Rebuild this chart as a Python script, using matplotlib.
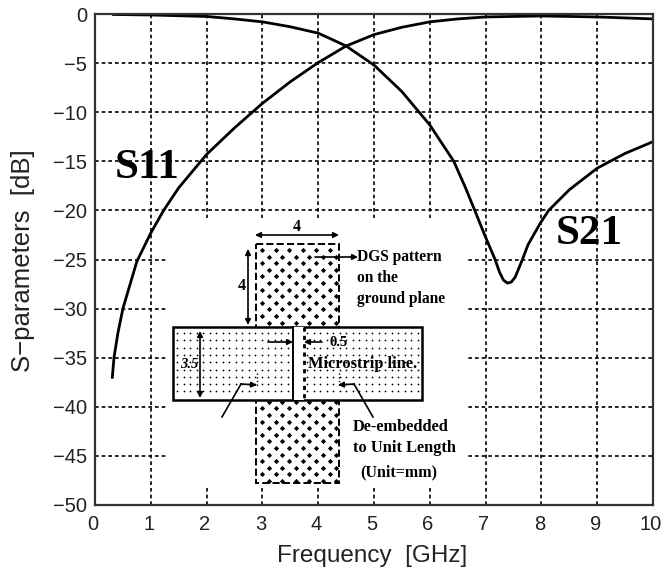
import matplotlib
matplotlib.use("Agg")
import matplotlib.pyplot as plt
import numpy as np
from matplotlib.patches import Rectangle
from matplotlib.transforms import ScaledTranslation

s11_freq = [0.31, 0.34, 0.41, 0.5, 0.75, 1.0, 1.23, 1.5, 2.0, 2.5, 3.0, 3.5, 4.0, 4.5, 5.0, 5.5, 6.0, 6.5, 7.0, 8.0, 9.0, 10.0]
s11_db = [-37, -35, -32.5, -30, -25.2, -22.3, -20, -17.7, -14.3, -11.6, -9.1, -6.9, -4.95, -3.26, -2.1, -1.35, -0.8, -0.5, -0.3, -0.2, -0.3, -0.5]
s21_freq = [0.33, 1.0, 2.0, 2.5, 3.0, 3.5, 4.0, 4.25, 4.5, 5.0, 5.5, 6.0, 6.43, 6.64, 6.82, 6.99, 7.17, 7.25, 7.32, 7.39, 7.46, 7.53, 7.66, 7.76, 7.98, 8.13, 8.5, 9.0, 9.5, 10.0]
s21_db = [-0.05, -0.1, -0.25, -0.5, -0.8, -1.3, -1.95, -2.6, -3.26, -5.2, -7.9, -11.3, -15, -17.7, -20.2, -22.6, -25, -26.3, -27.1, -27.4, -27.3, -26.8, -25, -23.5, -21.3, -20, -17.9, -15.7, -14.2, -13]
x_ticks = list(range(0, 11))
y_ticks = list(range(-50, 1, 5))
y_tick_labels = ["\u221250", "\u221245", "\u221240", "\u221235", "\u221230", "\u221225", "\u221220", "\u221215", "\u221210", "\u22125", "0"]

W, H = 662, 576
fig = plt.figure(figsize=(W/100, H/100), dpi=100)
L, R, T, B = 95, 653, 14, 505
ax = fig.add_axes([L/W, 1-B/H, (R-L)/W, (B-T)/H])
SANS = "Liberation Sans"
SERIF = "Liberation Serif"
ax.plot(s11_freq, s11_db, color="k", lw=2)
ax.plot(s21_freq, s21_db, color="k", lw=2)
ax.set_xlim(0, 10); ax.set_ylim(-50, 0)
ax.set_xticks(x_ticks); ax.set_yticks(y_ticks)
ax.set_yticklabels(y_tick_labels)
ax.grid(True, color="k", ls=(0, (2.2, 1.8)), lw=1.2)
ax.tick_params(length=0, labelsize=14.5)
ax.tick_params(axis="y", pad=5.8)
ax.tick_params(axis="x", pad=7)
for lab in ax.get_xticklabels():
    lab.set_family(SANS); lab.set_color("#222222")
    lab.set_transform(lab.get_transform() + ScaledTranslation(-2/100, 0, fig.dpi_scale_trans))
for lab in ax.get_yticklabels():
    lab.set_family(SANS); lab.set_color("#222222")
ax.set_xlabel("Frequency  [GHz]", family=SANS, fontsize=17.5, color="#222222", va="center")
ax.xaxis.set_label_coords((372-L)/(R-L), -(556-B)/(B-T))
ax.set_ylabel("S\u2212parameters  [dB]", family=SANS, fontsize=18.5, color="#222222", va="center")
ax.yaxis.set_label_coords(-(L-23)/(R-L), (B-261)/(B-T))
for s in ax.spines.values():
    s.set_linewidth(1.6)
    s.set_color("#333333")

# inset drawing, in pixel coordinates over the figure
ov = fig.add_axes([0, 0, 1, 1]); ov.set_xlim(0, W); ov.set_ylim(H, 0); ov.axis("off")
ov.patch.set_alpha(0)
ov.add_patch(Rectangle((167, 218), 299, 270, fc="w", ec="none", zorder=1))
ov.add_patch(Rectangle((256, 244), 83, 239, fc="w", ec="k", lw=1.4, ls="--", zorder=2))
gx, gy = np.meshgrid(np.arange(262, 336, 13.5), np.arange(250, 482, 13.2))
ox = np.concatenate([gx.ravel(), gx.ravel()+6.75]); oy = np.concatenate([gy.ravel(), gy.ravel()+6.6])
k = (ox < 337) & (oy < 481)
ov.scatter(ox[k], oy[k], s=7, c="k", marker="D", lw=0, zorder=3)
ov.add_patch(Rectangle((173, 327), 249, 73, fc="w", ec="k", lw=1.8, zorder=4))
dx, dy = np.meshgrid(np.arange(177, 420, 6.5), np.arange(333, 398, 7.3))
ov.scatter(dx.ravel(), dy.ravel(), s=1.6, c="k", lw=0, zorder=5)
ov.add_patch(Rectangle((293, 327), 11, 73, fc="w", ec="none", zorder=5.5))
ov.plot([293, 293], [327, 400], color="k", lw=1.4, zorder=6)
ov.plot([304, 304], [327, 400], color="k", lw=2, ls=(0, (1.5, 1.5)), zorder=6)

def arrow(x0, y0, x1, y1, style="-|>"):
    ov.annotate("", xy=(x1, y1), xytext=(x0, y0), zorder=8,
                arrowprops=dict(arrowstyle=style, color="k", lw=1.2, shrinkA=0, shrinkB=0, mutation_scale=8))
arrow(255, 235, 339, 235, "<|-|>")
arrow(248, 249, 248, 325, "<|-|>")
arrow(200, 331, 200, 398, "<|-|>")
arrow(315, 257, 358, 257)
arrow(268, 342, 293, 342)
arrow(322, 342, 304, 342)
ov.plot([222, 241], [417, 384], color="k", lw=1.2, zorder=8)
arrow(241, 384, 257, 385)
ov.plot([373, 354], [417, 384], color="k", lw=1.2, zorder=8)
arrow(354, 384, 338, 385)
ov.plot([257, 257], [373, 387], color="k", lw=1.0, ls=":", zorder=8)
ov.plot([339, 339], [373, 387], color="k", lw=1.0, ls=":", zorder=8)

def t(x, y, s, size=11.5, **kw):
    ov.text(x, y, s, family=SERIF, weight="bold", fontsize=size, va="center", zorder=9, **kw)
t(297, 227, "4", size=11.5, ha="center")
t(242, 286, "4", size=11.5, ha="center")
t(189, 365, "3.5", size=10.5, ha="center", style="italic")
t(330, 342, "0.5", size=10.5)
t(308, 364, "Microstrip line.", size=11.8)
t(357, 257, "DGS pattern", size=11.2)
t(357, 278, "on the", size=11.2)
t(357, 299, "ground plane", size=11.2)
t(353, 427, "De-embedded", size=11.8)
t(353, 448, "to Unit Length", size=11.8)
t(360, 472, "(Unit=mm)", size=11.5)
t(115, 168, "S11", size=31)
t(556, 234, "S21", size=31)
fig.savefig("out.png", dpi=100)
